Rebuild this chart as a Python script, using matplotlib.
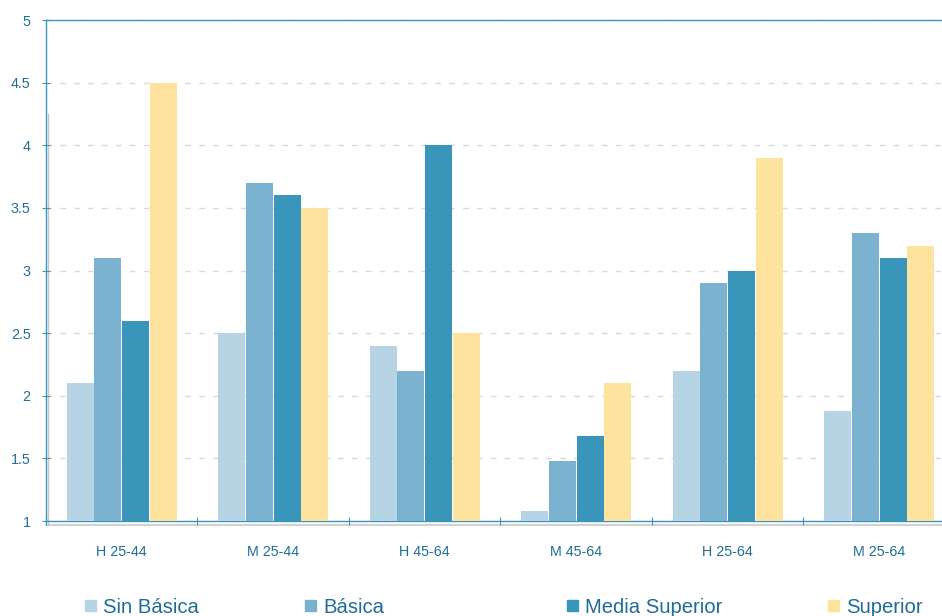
import matplotlib.pyplot as plt
import numpy as np
from matplotlib.patches import Rectangle

plt.rcParams['font.family'] = ['Liberation Sans', 'DejaVu Sans']

# Datos
categorias = ['H 25-44', 'M 25-44', 'H 45-64', 'M 45-64', 'H 25-64', 'M 25-64']
sin_basica = [2.1, 2.5, 2.4, 1.08, 2.2, 1.88]
basica = [3.1, 3.7, 2.2, 1.48, 2.9, 3.3]
media_superior = [2.6, 3.6, 4.0, 1.68, 3.0, 3.1]
superior = [4.5, 3.5, 2.5, 2.1, 3.9, 3.2]

series = [('Sin Básica', sin_basica, '#b7d4e4'),
          ('Básica', basica, '#7bb2cf'),
          ('Media Superior', media_superior, '#3a95bb'),
          ('Superior', superior, '#fde39d')]

texto = '#1f6d96'
eje = '#3a96bd'

W, H = 942, 616
fig = plt.figure(figsize=(W / 100, H / 100), dpi=100)
ax = fig.add_axes([0.0488, 0.154, 0.965, 0.8135])

x = np.arange(len(categorias))
width = 0.182
offsets = [-1.5, -0.5, 0.5, 1.5]

for (nombre, valores, color), off in zip(series, offsets):
    ax.bar(x + off * width, np.array(valores) - 1, width * 0.98, bottom=1,
           color=color, label=nombre, zorder=3)

ax.set_ylim(1, 5)
ax.set_xlim(-0.5, len(categorias) - 0.5)
ax.set_yticks(np.arange(1, 5.01, 0.5))
ax.set_yticklabels(['1', '1.5', '2', '2.5', '3', '3.5', '4', '4.5', '5'])
ax.yaxis.grid(True, linestyle=(0, (4, 6)), color='#d9d9d9', linewidth=1, zorder=0)

# ticks de categoría en los bordes
ax.set_xticks(np.arange(-0.5, len(categorias), 1), minor=False)
ax.set_xticklabels([])
ax.set_xticks(x, minor=True)
ax.set_xticklabels(categorias, minor=True)
ax.tick_params(axis='x', which='major', length=6, color=eje, direction='inout')
ax.tick_params(axis='x', which='minor', length=0, pad=17, labelsize=10.3, labelcolor=texto)
ax.tick_params(axis='y', length=6, color=eje, direction='inout', labelsize=10.3,
               labelcolor=texto, pad=8)

for s in ['left', 'top', 'bottom']:
    ax.spines[s].set_color(eje)
    ax.spines[s].set_linewidth(1)
ax.spines['right'].set_visible(False)

# sombra gris del marco
ax.plot([-0.5, 6.5], [0.97, 0.97], color='#c8c8c8', linewidth=1.2, clip_on=False, zorder=1)
ax.plot([-0.487, -0.487], [0.97, 4.25], color='#c8c8c8', linewidth=1, clip_on=False, zorder=1)

# leyenda inferior (posiciones en pixeles)
leyenda_x = [85, 305, 567, 828]
for (nombre, valores, color), px in zip(series, leyenda_x):
    fig.add_artist(Rectangle((px / W, 1 - 611 / H), 11 / W, 11 / H,
                             transform=fig.transFigure, color=color))
    fig.text((px + 18) / W, 1 - 613 / H, nombre, fontsize=14.6, color=texto,
             ha='left', va='baseline')

fig.savefig('out.png', dpi=100)
